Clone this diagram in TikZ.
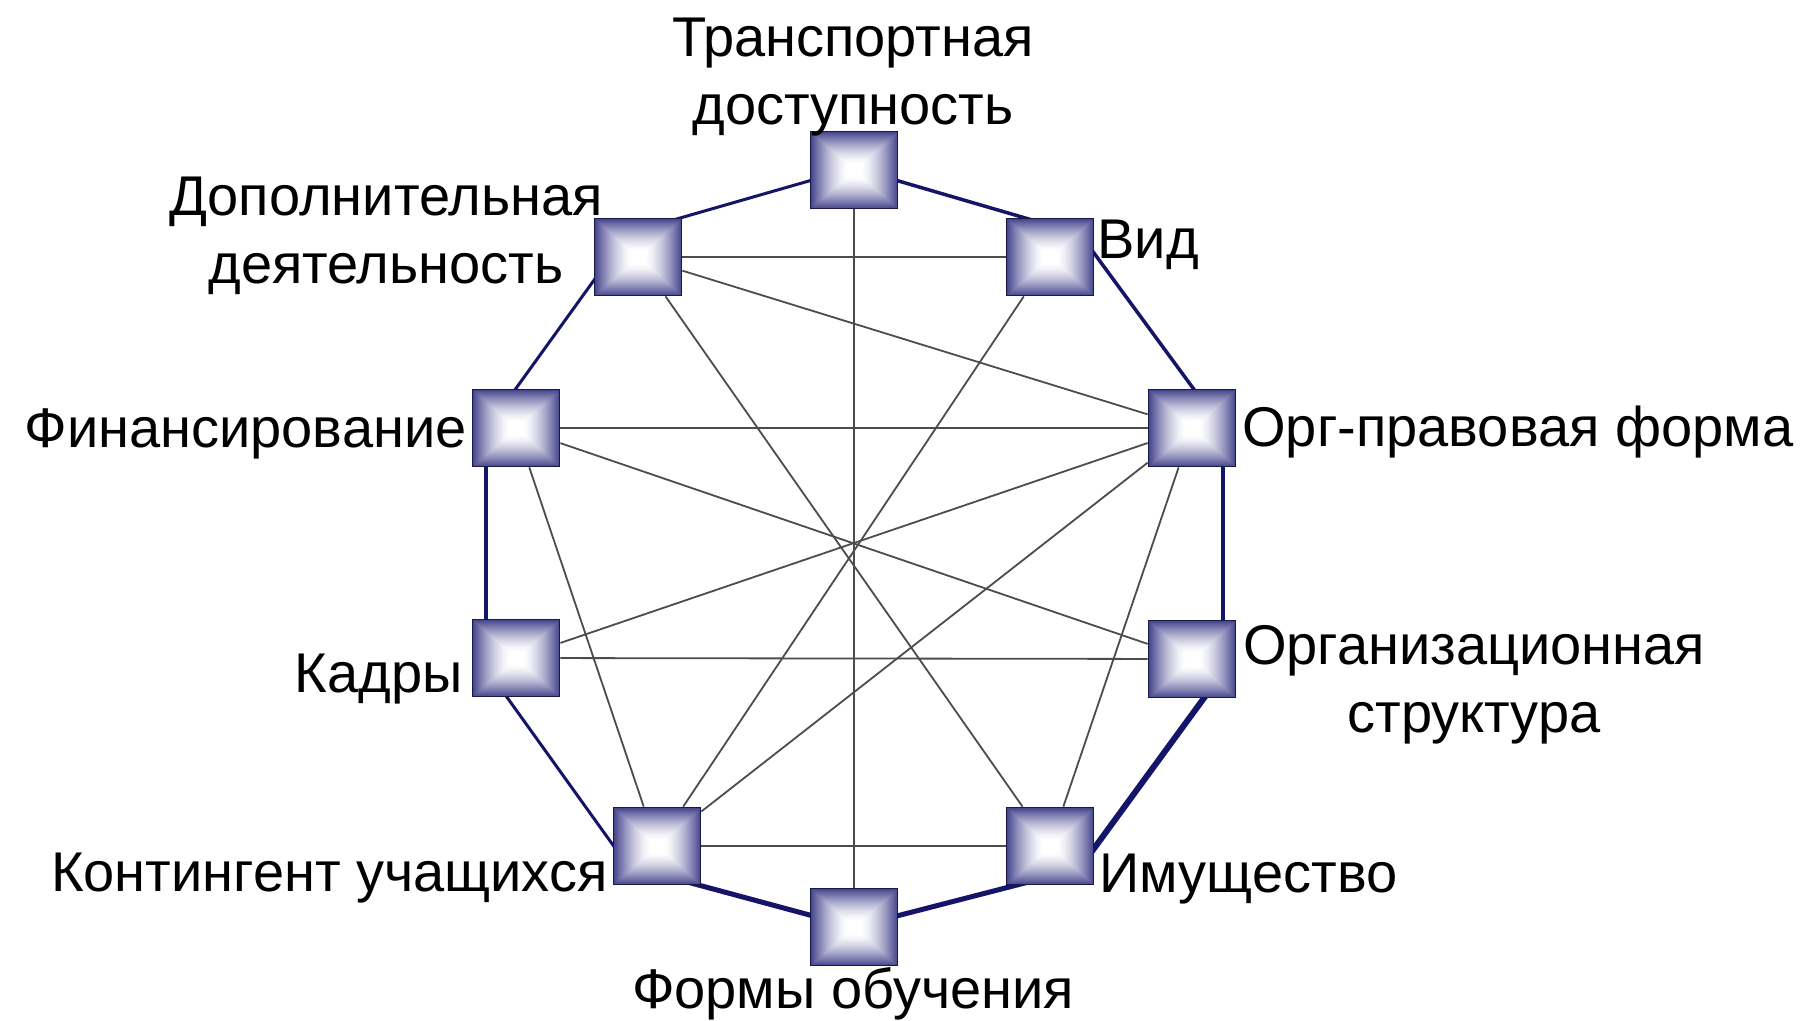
\documentclass[tikz,border=0pt]{standalone}
\usepackage{fontspec}
\setmainfont{Liberation Sans}
\usetikzlibrary{backgrounds}

\definecolor{rimblue}{RGB}{20,20,105}
\definecolor{boxedge}{RGB}{25,25,70}
\pgfdeclarefunctionalshading{boxglow}{\pgfpoint{-25bp}{-25bp}}{\pgfpoint{25bp}{25bp}}{}{
  abs exch abs 2 copy lt {exch} if pop
  25 div 0.15 sub 0.85 div
  dup 0 lt {pop 0} if dup 1 gt {pop 1} if
  dup sqrt mul
  dup 0.74 mul 1 exch sub exch
  dup 0.74 mul 1 exch sub exch
  0.45 mul 1 exch sub
}

\begin{document}
\begin{tikzpicture}[x=0.5pt,y=-0.5pt,
  hub/.style = {shape=rectangle, draw=boxedge, line width=0.9pt,
    shading=boxglow, minimum width=43.5pt, minimum height=38.5pt, inner sep=0pt},
  rim/.style = {draw=rimblue, line cap=round, line join=round},
  link/.style = {draw=black!70, line width=0.9pt},
  lbl/.style = {font=\fontsize{28}{34}\selectfont, inner sep=0pt, align=center}]
  \useasboundingbox (0,0) rectangle (1808,1021);
  % boxes
  \node[hub] (trans) at (854,170) {};
  \node[hub] (vid) at (1050,257) {};
  \node[hub] (orgform) at (1192,428) {};
  \node[hub] (orgstruct) at (1192,659) {};
  \node[hub] (imush) at (1050,846) {};
  \node[hub] (formy) at (854,927) {};
  \node[hub] (kont) at (657,846) {};
  \node[hub] (kadry) at (516,658) {};
  \node[hub] (finans) at (516,428) {};
  \node[hub] (dop) at (638,257) {};
  % corners of the outer ring
  \coordinate (trans-r) at (854,168);
  \coordinate (vid-r) at (1080,234);
  \coordinate (orgform-r) at (1223,429);
  \coordinate (orgstruct-r) at (1223,672);
  \coordinate (imush-r) at (1079,869);
  \coordinate (formy-r) at (854,927);
  \coordinate (kont-r) at (628,866);
  \coordinate (kadry-r) at (486,668);
  \coordinate (finans-r) at (486,430);
  \coordinate (dop-r) at (628,233);
  % labels
  \node[lbl, anchor=base] (trans-lbl) at (853,125) {Транспортная\\доступность};
  \node[lbl, anchor=base west] (vid-lbl) at (1097,259) {Вид};
  \node[lbl, anchor=base west] (orgform-lbl) at (1242,446) {Орг-правовая форма};
  \node[lbl, anchor=base] (orgstruct-lbl) at (1474,732) {Организационная\\структура};
  \node[lbl, anchor=base west] (imush-lbl) at (1099,892) {Имущество};
  \node[lbl, anchor=base] (formy-lbl) at (853,1008) {Формы обучения};
  \node[lbl, anchor=base east] (kont-lbl) at (608,891) {Контингент учащихся};
  \node[lbl, anchor=base east] (kadry-lbl) at (463,692) {Кадры};
  \node[lbl, anchor=base east] (finans-lbl) at (467,447) {Финансирование};
  \node[lbl, anchor=base] (dop-lbl) at (386,284) {Дополнительная\\деятельность};
  \begin{scope}[on background layer]
    \fill[white] (0,0) rectangle (1808,1021);
    \foreach \a/\b/\w in {trans/vid/1.75, vid/orgform/1.75, orgform/orgstruct/2,
        orgstruct/imush/3, imush/formy/2.5, formy/kont/2.5, kont/kadry/1.5,
        kadry/finans/1.7, finans/dop/1.5, dop/trans/1.5}
      \draw[rim, line width=\w pt] (\a-r) -- (\b-r);
    \foreach \a/\b in {dop/vid, dop/orgform, dop/imush, trans/formy, vid/kont,
        finans/orgform, finans/orgstruct, finans/kont, kadry/orgform,
        kadry/orgstruct, orgform/kont, orgform/imush, kont/imush}
      \draw[link] (\a) -- (\b);
  \end{scope}
\end{tikzpicture}
\end{document}
